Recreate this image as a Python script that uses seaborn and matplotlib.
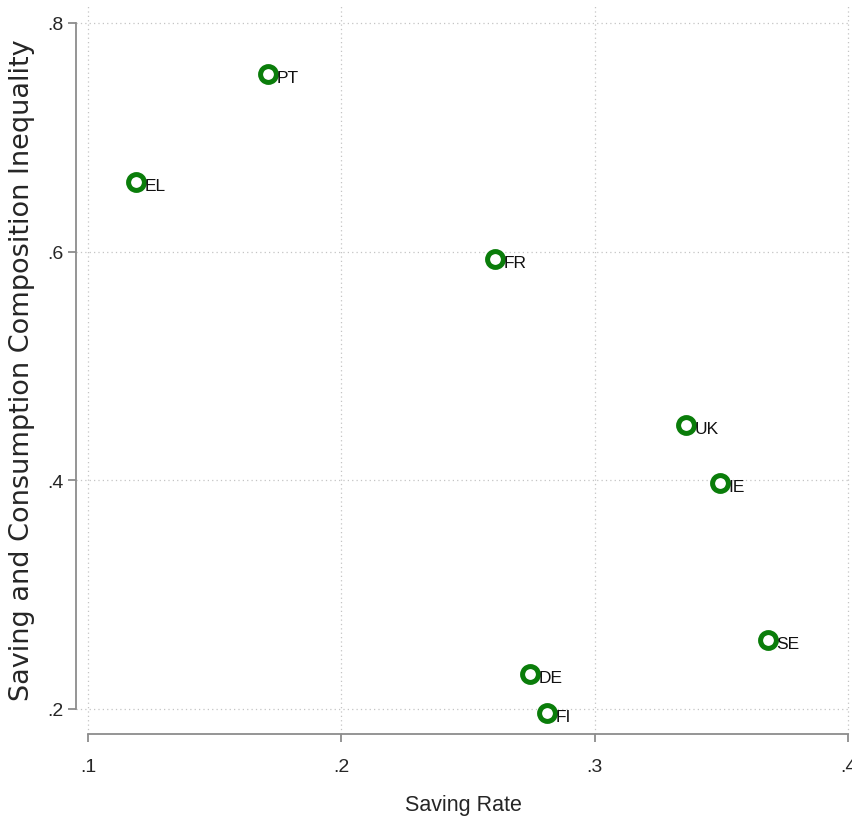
import pandas as pd
import matplotlib
matplotlib.use("Agg")
import matplotlib.pyplot as plt
import seaborn as sns

# ── Data ─────────────────────────────────────────────────────────────────────
countries = ["PT", "EL", "FR", "UK", "IE", "SE", "DE", "FI"]
saving_rate = [0.1711, 0.1190, 0.2607, 0.3361, 0.3495, 0.3685, 0.2745, 0.2812]
inequality = [0.7554, 0.6609, 0.5935, 0.4483, 0.3976, 0.2602, 0.2305, 0.1964]
x_ticks = [0.1, 0.2, 0.3, 0.4]
y_ticks = [0.2, 0.4, 0.6, 0.8]

df = pd.DataFrame({"country": countries, "saving": saving_rate, "ineq": inequality})

# ── Style ────────────────────────────────────────────────────────────────────
sns.set_style("white")
plt.rcParams["font.family"] = ["Liberation Sans", "DejaVu Sans"]

fig = plt.figure(figsize=(8.52, 8.28), dpi=100)
ax = fig.add_axes([76 / 852, 1 - 735 / 828, 774 / 852, 730 / 828])

sns.scatterplot(data=df, x="saving", y="ineq", ax=ax, marker="o", s=130,
                facecolor="white", edgecolor="#0a7d0a", linewidth=3.6, zorder=3)

for _, r in df.iterrows():
    ax.annotate(r["country"], (r["saving"], r["ineq"]), xytext=(6, -2.5),
                textcoords="offset points", ha="left", va="center",
                fontsize=12.5, color="#111111")

ax.set_xlim(0.0953, 0.4008)
ax.set_ylim(0.1781, 0.8166)
ax.set_xticks(x_ticks)
ax.set_yticks(y_ticks)
ax.set_xticklabels([f"{v:.1f}".lstrip("0") for v in x_ticks], fontsize=14)
ax.set_yticklabels([f"{v:.1f}".lstrip("0") for v in y_ticks], fontsize=14)

ax.grid(True, linestyle=(0, (1, 2.5)), color="#c4c4c4", linewidth=0.9)
ax.set_axisbelow(True)

for side in ["top", "right"]:
    ax.spines[side].set_visible(False)
for side in ["left", "bottom"]:
    ax.spines[side].set_color("#8c8c8c")
    ax.spines[side].set_linewidth(1.3)
ax.spines["left"].set_bounds(0.2, 0.8)
ax.spines["bottom"].set_bounds(0.1, 0.4)
ax.tick_params(axis="both", direction="out", length=6, width=1.3,
               color="#8c8c8c", left=True, bottom=True)
ax.tick_params(axis="y", pad=3)
ax.tick_params(axis="x", pad=11)

ax.set_xlabel("Saving Rate", fontsize=15.5, va="center")
ax.xaxis.set_label_coords(0.5, -0.097)
ax.set_ylabel("Saving and Consumption Composition Inequality", fontsize=19.5,
              family="DejaVu Sans", va="center")
ax.yaxis.set_label_coords(-0.07, 0.5)

fig.savefig("out.png", dpi=100)
